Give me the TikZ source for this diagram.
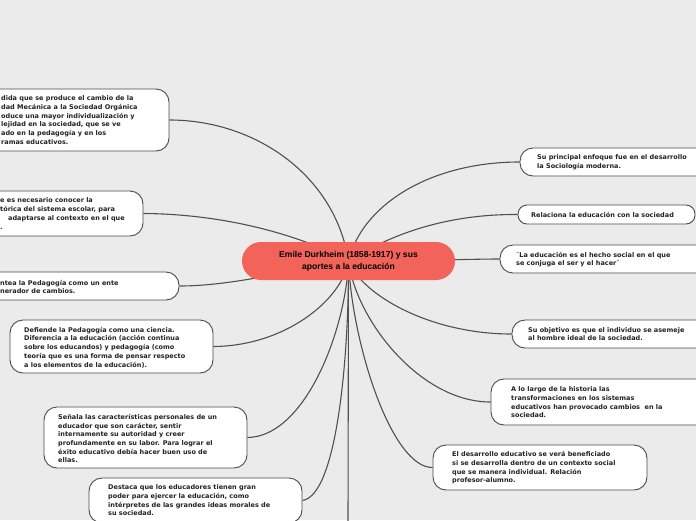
\documentclass[tikz,border=0pt]{standalone}
\usepackage{fontspec}
\setmainfont{DejaVu Sans}
\newfontfamily\centralfont{Liberation Sans}
\definecolor{bg}{HTML}{EBEBEB}
\definecolor{lineC}{HTML}{505050}
\definecolor{boxborder}{HTML}{4A4A4A}
\definecolor{mainfill}{HTML}{F2635A}
\definecolor{txtC}{HTML}{222222}
\pgfdeclarelayer{backl}
\pgfdeclarelayer{connl}
\pgfsetlayers{backl,connl,main}
\tikzset{
  box/.style={draw=boxborder, line width=0.9pt, fill=white, rounded corners=13pt, inner sep=0pt},
  txt/.style={anchor=west, inner sep=0pt, align=left, text=txtC, font=\fontsize{6.5}{8.7}\selectfont\bfseries},
  conn/.style={draw=lineC, line width=1.1pt},
  mainbox/.style={fill=mainfill, rounded corners=19pt, inner sep=0pt, minimum width=213pt, minimum height=38pt, align=center, font=\centralfont\fontsize{8.6}{12}\selectfont\bfseries, text=black}
}
\begin{document}
\begin{tikzpicture}[x=1pt,y=-1pt]
\begin{pgfonlayer}{backl}
\fill[bg] (0,0) rectangle (696,520);
\end{pgfonlayer}
\useasboundingbox (0,0) rectangle (696,520);
\clip (0,0) rectangle (696,520);
% boxes
\node[box, minimum width=229pt, minimum height=62pt] (b1) at (54.5,120) {};
\node[box, minimum width=203pt, minimum height=45pt] (b2) at (41.5,213.5) {};
\node[box, minimum width=239pt, minimum height=28pt] (b3) at (59.5,286) {};
\node[box, minimum width=203pt, minimum height=53pt] (b4) at (111.5,346.5) {};
\node[box, minimum width=203pt, minimum height=61pt] (b5) at (145.5,437.5) {};
\node[box, minimum width=213pt, minimum height=45pt] (b6) at (195.5,500.5) {};
\node[box, minimum width=240pt, minimum height=28pt] (b7) at (640,162) {};
\node[box, rounded corners=9pt, minimum width=177pt, minimum height=19pt] (b8) at (606.5,214.5) {};
\node[box, minimum width=260pt, minimum height=28pt] (b9) at (630,259) {};
\node[box, minimum width=248pt, minimum height=28pt] (b10) at (636,334) {};
\node[box, minimum width=269pt, minimum height=46pt] (b11) at (625.5,402) {};
\node[box, minimum width=214pt, minimum height=45pt] (b12) at (540,467.5) {};
\node[mainbox] (c) at (348.5,261) {Emile Durkheim (1858-1917) y sus\\aportes a la educación};
\coordinate (bot) at (348,525);
% connectors
\begin{pgfonlayer}{connl}
\draw[conn] (b1.east) .. controls (255,120) and (335,175) .. (c.center);
\draw[conn] (b2.east) .. controls (225,214) and (300,235) .. (c.center);
\draw[conn] (b3.east) .. controls (235,286) and (300,268) .. (c.center);
\draw[conn] (b4.east) .. controls (285,346) and (342,300) .. (c.center);
\draw[conn] (b5.east) .. controls (305,437) and (346,330) .. (c.center);
\draw[conn] (b6.east) .. controls (338,495) and (349,350) .. (c.center);
\draw[conn] (c.center) -- (bot);
\draw[conn] (b7.west) .. controls (430,162) and (362,205) .. (c.center);
\draw[conn] (b8.west) .. controls (440,214) and (385,238) .. (c.center);
\draw[conn] (b9.west) .. controls (470,259) and (420,261) .. (c.center);
\draw[conn] (b10.west) .. controls (430,334) and (362,295) .. (c.center);
\draw[conn] (b11.west) .. controls (420,402) and (356,320) .. (c.center);
\draw[conn] (b12.west) .. controls (392,468) and (352,345) .. (c.center);
\end{pgfonlayer}
% texts
\node[txt] (t1) at (1,120) {dida que se produce el cambio de la\\dad Mecánica a la Sociedad Orgánica\\oduce una mayor individualización y\\lejidad en la sociedad, que se ve\\ado en la pedagogía y en los\\ramas educativos.};
\node[txt] (t2) at (0,213.5) {e es necesario conocer la\\tórica del sistema escolar, para\\\hspace*{8pt}adaptarse al contexto en el que\\.};
\node[txt] (t3) at (0,287) {ntea la Pedagogía como un ente\\nerador de cambios.};
\node[txt] (t4) at (24,347.5) {Defiende la Pedagogía como una ciencia.\\Diferencia a la educación (acción continua\\sobre los educandos) y pedagogía (como\\teoría que es una forma de pensar respecto\\a los elementos de la educación).};
\node[txt] (t5) at (58,438.5) {Señala las características personales de un\\educador que son carácter, sentir\\internamente su autoridad y creer\\profundamente en su labor. Para lograr el\\éxito educativo debía hacer buen uso de\\ellas.};
\node[txt] (t6) at (108,500.5) {Destaca que los educadores tienen gran\\poder para ejercer la educación, como\\intérpretes de las grandes ideas morales de\\su sociedad.};
\node[txt] (t7) at (537,162.5) {Su principal enfoque fue en el desarrollo\\la Sociología moderna.};
\node[txt] (t8) at (531,214.5) {Relaciona la educación con la sociedad};
\node[txt] (t9) at (516,259.5) {¨La educación es el hecho social en el que\\se conjuga el ser y el hacer¨};
\node[txt] (t10) at (528,334) {Su objetivo es que el individuo se asemeje\\al hombre ideal de la sociedad.};
\node[txt] (t11) at (511,402.5) {A lo largo de la historia las\\transformaciones en los sistemas\\educativos han provocado cambios\ \ en la\\sociedad.};
\node[txt] (t12) at (452,468) {El desarrollo educativo se verá beneficiado\\si se desarrolla dentro de un contexto social\\que se manera individual. Relación\\profesor-alumno.};
\end{tikzpicture}
\end{document}
